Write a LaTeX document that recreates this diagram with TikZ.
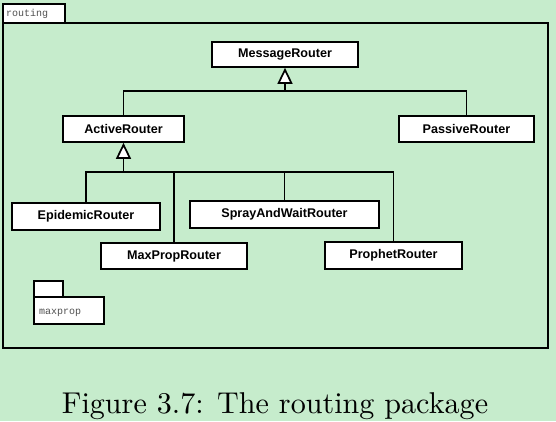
\documentclass[tikz,border=0pt]{standalone}
\usepackage{fontspec}
\newfontfamily\boxfont{Liberation Sans}
\newfontfamily\pkgfont{Liberation Mono}
\usetikzlibrary{arrows.meta}
\definecolor{bg}{RGB}{198,236,204}
\definecolor{pkgtext}{RGB}{80,80,80}
\tikzset{
  cls/.style={draw=black, fill=white, line width=1.7pt, minimum height=26pt,
    inner sep=0pt, font=\boxfont\bfseries\fontsize{12.6}{14}\selectfont},
  pkg/.style={draw=black, fill=white, line width=1.7pt},
  pkglabel/.style={font=\pkgfont\fontsize{10}{12}\selectfont, text=pkgtext, anchor=west, inner sep=0pt},
  link/.style={line width=1.7pt},
  inh/.style={line width=1.7pt, -{Triangle[width=15pt,length=16pt,fill=white,line width=1.7pt]}}
}
\begin{document}
\begin{tikzpicture}[x=1pt,y=-1pt]
\useasboundingbox (0,0) rectangle (556,421);
\fill[bg] (0,0) rectangle (556,421);
% routing package
\draw[pkg] (3,4) rectangle (65,23);
\draw[line width=1.7pt] (3,23) rectangle (548,348);
\node[pkglabel] (routinglbl) at (6,14) {routing};
% maxprop package
\draw[pkg] (34,281) rectangle (63,297);
\draw[pkg] (34,297) rectangle (104,324);
\node[pkglabel] (maxproplbl) at (39,313) {maxprop};
% classes
\node[cls, minimum width=146pt, minimum height=25pt] (mr) at (285,54.5) {MessageRouter};
\node[cls, minimum width=135pt] (passive) at (466.5,129) {PassiveRouter};
\node[cls, minimum width=121pt] (active) at (123.5,129) {ActiveRouter};
\node[cls, minimum width=148pt, minimum height=27pt] (epi) at (86,216.5) {EpidemicRouter};
\node[cls, minimum width=146pt] (maxp) at (174,256) {MaxPropRouter};
\node[cls, minimum width=189pt, minimum height=27pt] (spray) at (284.5,214.5) {SprayAndWaitRouter};
\node[cls, minimum width=137pt, minimum height=27pt] (prophet) at (393.5,255.5) {ProphetRouter};
% connectors
\coordinate (j1) at (285,91);
\coordinate (j2) at (123.5,172);
\draw[link] (active.north) |- (j1);
\draw[link] (passive.north) |- (j1);
\draw[inh] (j1) -- (mr.south);
\draw[link] (epi.north) |- (j2);
\draw[link] (maxp.north) |- (j2);
\draw[link] (spray.north) |- (j2);
\draw[link] (prophet.north) |- (j2);
\draw[inh] (j2) -- (active.south);
% caption
\node[anchor=base, inner sep=0pt, scale=3.01, font=\fontsize{10}{12}\selectfont] (cap) at (275,413) {Figure 3.7: The routing package};
\end{tikzpicture}
\end{document}
